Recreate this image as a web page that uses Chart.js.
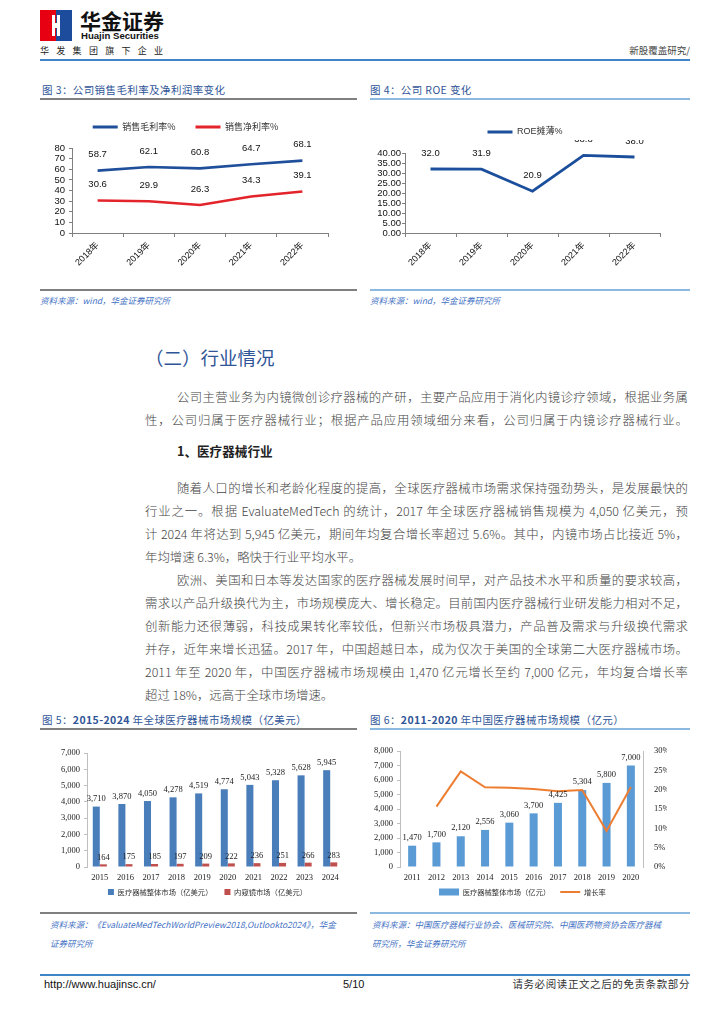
<!DOCTYPE html>
<html><head><meta charset="utf-8">
<script src="https://cdn.jsdelivr.net/npm/chart.js@4.4.1/dist/chart.umd.min.js"></script>
<style>
html,body{margin:0;padding:0;background:#fff;}
#page{position:relative;width:724px;height:1024px;overflow:hidden;font-family:"Noto Sans CJK SC","Liberation Sans",sans-serif;}
.tx{position:absolute;white-space:nowrap;line-height:1;}
.hl{position:absolute;}
canvas{position:absolute;}
.pl{position:absolute;left:145px;width:543px;font-size:12.4px;line-height:16px;color:#444;font-weight:300;text-align:justify;text-align-last:justify;}
.pf{left:177px;width:511px;}
.pe{text-align:left;text-align-last:left;}
.ft{color:#2F5597;font-size:10.5px;letter-spacing:0.4px;}
.src{color:#4472C4;font-size:8.5px;font-style:italic;}
</style>
</head><body>
<div id="page">
<!-- header -->
<svg style="position:absolute;left:40px;top:10px" width="32" height="31" viewBox="0 0 32 31">
  <rect x="0" y="0" width="16" height="31" fill="#E60012"/>
  <rect x="16" y="0" width="16" height="31" fill="#1D4C9C"/>
  <polygon points="12,5 15,5 15,13 17,13 17,5 20,5 20,26 17,26 17,18 15,18 15,26 12,26" fill="#fff"/>
</svg>
<div class="tx" style="left:80px;top:10px;font-size:21px;font-weight:bold;color:#111;">华金证券</div>
<div class="tx" style="left:81px;top:31px;font-size:9.6px;font-weight:bold;color:#111;font-family:'Liberation Sans',sans-serif;">Huajin Securities</div>
<div class="tx" style="left:40px;top:46px;font-size:9px;letter-spacing:7.3px;color:#222;">华发集团旗下企业</div>
<div class="tx" style="right:34px;top:46px;font-size:9.5px;color:#444;">新股覆盖研究/</div>
<div class="hl" style="left:40px;top:59px;width:650px;height:2px;background:#3D85C6;"></div>

<!-- figure 3 / 4 titles -->
<div class="tx ft" style="left:42px;top:85px;">图 3：公司销售毛利率及净利润率变化</div>
<div class="hl" style="left:40px;top:98px;width:317px;height:2px;background:#808080;"></div>
<div class="tx ft" style="left:370px;top:85px;">图 4：公司 ROE 变化</div>
<div class="hl" style="left:370px;top:98px;width:320px;height:2px;background:#8DB8DF;"></div>

<canvas id="c3" width="317" height="183" style="left:40px;top:105px;"></canvas>
<canvas id="c4" width="328" height="183" style="left:362px;top:105px;"></canvas>

<div class="hl" style="left:40px;top:289px;width:317px;height:2px;background:#808080;"></div>
<div class="hl" style="left:370px;top:289px;width:320px;height:2px;background:#8DB8DF;"></div>
<div class="tx src" style="left:40px;top:296px;">资料来源：wind，华金证券研究所</div>
<div class="tx src" style="left:370px;top:296px;">资料来源：wind，华金证券研究所</div>

<!-- body text -->
<div class="tx" style="left:145px;top:348px;font-size:18.5px;color:#2F5597;">（二）行业情况</div>

<div class="pl pf" style="top:389px;">公司主营业务为内镜微创诊疗器械的产研，主要产品应用于消化内镜诊疗领域，根据业务属</div>
<div class="pl" style="top:412px;">性，公司归属于医疗器械行业；根据产品应用领域细分来看，公司归属于内镜诊疗器械行业。</div>
<div class="tx" style="left:177px;top:445px;font-size:12.6px;font-weight:bold;color:#222;">1、医疗器械行业</div>

<div class="pl pf" style="top:480px;">随着人口的增长和老龄化程度的提高，全球医疗器械市场需求保持强劲势头，是发展最快的</div>
<div class="pl" style="top:503px;">行业之一。根据 EvaluateMedTech 的统计，2017 年全球医疗器械销售规模为 4,050 亿美元，预</div>
<div class="pl" style="top:526px;">计 2024 年将达到 5,945 亿美元，期间年均复合增长率超过 5.6%。其中，内镜市场占比接近 5%，</div>
<div class="pl pe" style="top:549px;">年均增速 6.3%，略快于行业平均水平。</div>

<div class="pl pf" style="top:572px;">欧洲、美国和日本等发达国家的医疗器械发展时间早，对产品技术水平和质量的要求较高，</div>
<div class="pl" style="top:595px;">需求以产品升级换代为主，市场规模庞大、增长稳定。目前国内医疗器械行业研发能力相对不足，</div>
<div class="pl" style="top:618px;">创新能力还很薄弱，科技成果转化率较低，但新兴市场极具潜力，产品普及需求与升级换代需求</div>
<div class="pl" style="top:641px;">并存，近年来增长迅猛。2017 年，中国超越日本，成为仅次于美国的全球第二大医疗器械市场。</div>
<div class="pl" style="top:664px;">2011 年至 2020 年，中国医疗器械市场规模由 1,470 亿元增长至约 7,000 亿元，年均复合增长率</div>
<div class="pl pe" style="top:687px;">超过 18%，远高于全球市场增速。</div>

<!-- figure 5 / 6 titles -->
<div class="tx ft" style="left:42px;top:715px;">图 5：<b>2015-2024</b> 年全球医疗器械市场规模（亿美元）</div>
<div class="hl" style="left:40px;top:728px;width:317px;height:2px;background:#808080;"></div>
<div class="tx ft" style="left:370px;top:715px;">图 6：<b>2011-2020</b> 年中国医疗器械市场规模（亿元）</div>
<div class="hl" style="left:370px;top:728px;width:320px;height:2px;background:#8DB8DF;"></div>

<canvas id="c5" width="317" height="170" style="left:40px;top:735px;"></canvas>
<canvas id="c6" width="328" height="170" style="left:362px;top:735px;"></canvas>

<div class="hl" style="left:40px;top:912px;width:317px;height:2px;background:#808080;"></div>
<div class="hl" style="left:370px;top:912px;width:320px;height:2px;background:#8DB8DF;"></div>
<div class="tx src" style="left:50px;top:920px;">资料来源：《EvaluateMedTechWorldPreview2018,Outlookto2024》，华金</div>
<div class="tx src" style="left:50px;top:939px;">证券研究所</div>
<div class="tx src" style="left:372px;top:920px;">资料来源：中国医疗器械行业协会、医械研究院、中国医药物资协会医疗器械</div>
<div class="tx src" style="left:372px;top:939px;">研究所，华金证券研究所</div>

<!-- footer -->
<div class="hl" style="left:40px;top:974px;width:650px;height:1.5px;background:#3D85C6;"></div>
<div class="tx" style="left:44px;top:979px;font-size:11px;color:#111;font-family:'Liberation Sans',sans-serif;">http://www.huajinsc.cn/</div>
<div class="tx" style="left:343px;top:979px;font-size:11px;color:#111;font-family:'Liberation Sans',sans-serif;">5/10</div>
<div class="tx" style="right:34px;top:979px;font-size:10.5px;color:#333;letter-spacing:0.6px;">请务必阅读正文之后的免责条款部分</div>
</div>

<script>
// ---------- data ----------
const years3 = ['2018年', '2019年', '2020年', '2021年', '2022年'];
const grossMargin = [58.7, 62.1, 60.8, 64.7, 68.1];
const netMargin = [30.6, 29.9, 26.3, 34.3, 39.1];
const roeYears = ['2018年', '2019年', '2020年', '2021年', '2022年'];
const roeDiluted = [32.0, 31.9, 20.9, 38.8, 38.0];
const years5 = ['2015', '2016', '2017', '2018', '2019', '2020', '2021', '2022', '2023', '2024'];
const globalMarket = [3710, 3870, 4050, 4278, 4519, 4774, 5043, 5328, 5628, 5945];
const endoscopeMarket = [164, 175, 185, 197, 209, 222, 236, 251, 266, 283];
const years6 = ['2011', '2012', '2013', '2014', '2015', '2016', '2017', '2018', '2019', '2020'];
const chinaMarket = [1470, 1700, 2120, 2556, 3060, 3700, 4425, 5304, 5800, 7000];
const growthRate = [null, 15.6, 24.7, 20.6, 20.5, 20.2, 19.6, 19.9, 9.3, 20.7];

// ---------- helpers ----------
const SANS = '"Liberation Sans", "Noto Sans CJK SC", sans-serif';
const SERIF = '"Liberation Serif", "Noto Sans CJK SC", serif';
const CJK = '"Noto Sans CJK SC", "Liberation Sans", sans-serif';
const fmtThousands = v => Number(v).toLocaleString('en-US');

function tune(o) {
  return {
    id: 'tune',
    beforeLayout(chart) {
      const lg = chart.legend;
      if (lg && !lg._tuned && o.legendH != null) {
        const f = lg.fit;
        lg.fit = function () { f.call(this); this.height = o.legendH; };
        lg._tuned = true;
      }
    },
    afterLayout(chart) {
      const lg = chart.legend;
      if (lg) {
        lg.left += o.dx || 0; lg.right += o.dx || 0;
        lg.top += o.dy || 0;
        lg.bottom = chart.height;
      }
    }
  };
}

function valueLabels(cfgs) {
  return {
    id: 'valueLabels',
    afterDatasetsDraw(chart) {
      const ctx = chart.ctx;
      cfgs.forEach(c => {
        const meta = chart.getDatasetMeta(c.index);
        const vals = chart.data.datasets[c.index].data;
        ctx.save();
        if (c.clipTop != null) {
          ctx.beginPath();
          ctx.rect(0, chart.chartArea.top - c.clipTop, chart.width, chart.height);
          ctx.clip();
        }
        ctx.font = c.font;
        ctx.fillStyle = c.color;
        ctx.textAlign = 'center';
        ctx.textBaseline = 'middle';
        meta.data.forEach((el, j) => {
          const v = vals[j];
          if (v == null) return;
          ctx.fillText(c.fmt(v), el.x + (c.dx || 0), el.y - c.dy);
        });
        ctx.restore();
      });
    }
  };
}

function legendLabels(chart) {
  return chart.data.datasets.map((ds, i) => ({
    text: ds.label,
    fillStyle: ds.legendFill,
    strokeStyle: ds.legendFill,
    lineWidth: ds.legendLine || 0,
    pointStyle: ds.legendStyle,
    hidden: false,
    datasetIndex: i,
    fontColor: '#333'
  }));
}

Chart.defaults.animation = false;
Chart.defaults.color = '#000';

// ---------- chart 3 ----------
const AX3 = '#7f7f7f';
new Chart(document.getElementById('c3'), {
  type: 'line',
  data: {
    labels: years3,
    datasets: [
      { label: '销售毛利率%', data: grossMargin, borderColor: '#1F4E9A', backgroundColor: '#1F4E9A',
        borderWidth: 2.6, pointRadius: 0, tension: 0, legendFill: '#1F4E9A', legendLine: 3, legendStyle: 'line' },
      { label: '销售净利率%', data: netMargin, borderColor: '#E3242B', backgroundColor: '#E3242B',
        borderWidth: 2.6, pointRadius: 0, tension: 0, legendFill: '#E3242B', legendLine: 3, legendStyle: 'line' }
    ]
  },
  options: {
    responsive: false,
    layout: { padding: { left: 0, right: 29, top: 0, bottom: 0 } },
    plugins: {
      tooltip: { enabled: false },
      legend: { position: 'top', labels: { usePointStyle: true, pointStyleWidth: 25, boxHeight: 9, padding: 20,
        font: { size: 9, family: CJK }, color: '#333', generateLabels: legendLabels } }
    },
    scales: {
      x: { offset: true,
        grid: { display: true, drawOnChartArea: false, offset: true, tickLength: 4, color: AX3 },
        border: { display: true, color: AX3 },
        ticks: { minRotation: 45, maxRotation: 45, padding: 3, font: { size: 9, family: SANS }, color: '#111' },
        afterFit(s) { s.height = 55; } },
      y: { min: 0, max: 80,
        grid: { display: true, drawOnChartArea: false, tickLength: 3, color: AX3 },
        border: { display: true, color: AX3 },
        ticks: { stepSize: 10, autoSkip: false, padding: 4, font: { size: 9.5, family: SANS }, color: '#111' },
        afterFit(s) { s.width = 32; } }
    }
  },
  plugins: [tune({ legendH: 43, dx: 1.5, dy: -2.5 }),
    valueLabels([
      { index: 0, dy: 16, font: '9.5px ' + SANS, color: '#111', fmt: v => v.toFixed(1) },
      { index: 1, dy: 16, font: '9.5px ' + SANS, color: '#111', fmt: v => v.toFixed(1) }
    ])]
});

// ---------- chart 4 ----------
new Chart(document.getElementById('c4'), {
  type: 'line',
  data: {
    labels: roeYears,
    datasets: [
      { label: 'ROE摊薄%', data: roeDiluted, borderColor: '#1B4F9C', backgroundColor: '#1B4F9C',
        borderWidth: 2.8, pointRadius: 0, tension: 0, legendFill: '#1B4F9C', legendLine: 3, legendStyle: 'line' }
    ]
  },
  options: {
    responsive: false,
    layout: { padding: { left: 0, right: 30, top: 0, bottom: 0 } },
    plugins: {
      tooltip: { enabled: false },
      legend: { position: 'top', labels: { usePointStyle: true, pointStyleWidth: 25, boxHeight: 9, padding: 20,
        font: { size: 9, family: SANS }, color: '#333', generateLabels: legendLabels } }
    },
    scales: {
      x: { offset: true,
        grid: { display: true, drawOnChartArea: false, offset: true, tickLength: 4, color: AX3 },
        border: { display: true, color: AX3 },
        ticks: { minRotation: 45, maxRotation: 45, padding: 3, font: { size: 9, family: SANS }, color: '#111' },
        afterFit(s) { s.height = 55; } },
      y: { min: 0, max: 40,
        grid: { display: true, drawOnChartArea: false, tickLength: 3, color: AX3 },
        border: { display: true, color: AX3 },
        ticks: { stepSize: 5, autoSkip: false, padding: 1, font: { size: 9.5, family: SANS }, color: '#111', callback: v => v.toFixed(2) },
        afterFit(s) { s.width = 43; } }
    }
  },
  plugins: [tune({ legendH: 48, dx: 14, dy: 2.5 }),
    valueLabels([
      { index: 0, dy: 16, font: '9.5px ' + SANS, color: '#111', fmt: v => v.toFixed(1), clipTop: 13 }
    ])]
});

// ---------- chart 5 ----------
const AX5 = '#bfbfbf';
new Chart(document.getElementById('c5'), {
  type: 'bar',
  data: {
    labels: years5,
    datasets: [
      { label: '医疗器械整体市场（亿美元）', data: globalMarket, backgroundColor: '#4A7EBB',
        barPercentage: 1, categoryPercentage: 0.55, legendFill: '#4A7EBB', legendStyle: 'rect' },
      { label: '内窥镜市场（亿美元）', data: endoscopeMarket, backgroundColor: '#C0504D',
        barPercentage: 1, categoryPercentage: 0.55, legendFill: '#C0504D', legendStyle: 'rect' }
    ]
  },
  options: {
    responsive: false,
    layout: { padding: { left: 0, right: 14, top: 18, bottom: 0 } },
    plugins: {
      tooltip: { enabled: false },
      legend: { position: 'bottom', labels: { usePointStyle: true, pointStyleWidth: 6, boxHeight: 6, padding: 12,
        font: { size: 7.3, family: CJK }, color: '#333', generateLabels: legendLabels } }
    },
    scales: {
      x: { grid: { display: false }, border: { display: false },
        ticks: { padding: -2, font: { size: 8.5, family: SERIF }, color: '#222' },
        afterFit(s) { s.height = 18; } },
      y: { min: 0, max: 7000,
        grid: { display: true, drawOnChartArea: false, tickLength: 3, color: AX5 },
        border: { display: true, color: AX5 },
        ticks: { stepSize: 1000, autoSkip: false, padding: 4, font: { size: 8.5, family: SERIF }, color: '#222', callback: v => fmtThousands(v) },
        afterFit(s) { s.width = 47; } }
    }
  },
  plugins: [tune({ legendH: 20, dx: 16, dy: -8.65 }),
    valueLabels([
      { index: 0, dy: 7.6, font: '8.5px ' + SERIF, color: '#222', fmt: fmtThousands },
      { index: 1, dy: 7, font: '8.5px ' + SERIF, color: '#222', fmt: fmtThousands }
    ])]
});

// ---------- chart 6 ----------
new Chart(document.getElementById('c6'), {
  type: 'bar',
  data: {
    labels: years6,
    datasets: [
      { type: 'bar', label: '医疗器械整体市场（亿元）', data: chinaMarket, backgroundColor: '#5B9BD5',
        barPercentage: 1, categoryPercentage: 0.33, yAxisID: 'y', order: 2, legendFill: '#5B9BD5', legendStyle: 'rect' },
      { type: 'line', label: '增长率', data: growthRate, borderColor: '#ED7D31', backgroundColor: '#ED7D31',
        borderWidth: 2, pointRadius: 0, tension: 0, yAxisID: 'y2', order: 1, legendFill: '#ED7D31', legendLine: 2, legendStyle: 'line' }
    ]
  },
  options: {
    responsive: false,
    layout: { padding: { left: 0, right: 23, top: 16, bottom: 0 } },
    plugins: {
      tooltip: { enabled: false },
      legend: { position: 'bottom', labels: { usePointStyle: true, pointStyleWidth: 20, boxHeight: 7, padding: 10,
        font: { size: 7.3, family: CJK }, color: '#333', generateLabels: legendLabels } }
    },
    scales: {
      x: { grid: { display: false }, border: { display: false },
        ticks: { padding: -2, font: { size: 8.5, family: SERIF }, color: '#222' },
        afterFit(s) { s.height = 18; } },
      y: { position: 'left', min: 0, max: 8000,
        grid: { display: true, drawOnChartArea: false, tickLength: 3, color: AX5 },
        border: { display: true, color: AX5 },
        ticks: { stepSize: 1000, autoSkip: false, padding: 4, font: { size: 8.5, family: SERIF }, color: '#222', callback: v => fmtThousands(v) },
        afterFit(s) { s.width = 38; } },
      y2: { position: 'right', min: 0, max: 30,
        grid: { display: false, drawOnChartArea: false },
        border: { display: true, color: AX5 },
        ticks: { stepSize: 5, autoSkip: false, padding: 3, font: { size: 8.5, family: SERIF }, color: '#222', callback: v => v + '%' },
        afterFit(s) { s.width = 24; } }
    }
  },
  plugins: [tune({ legendH: 20, dx: 7.9, dy: -6.65 }),
    valueLabels([
      { index: 0, dy: 8, font: '8.5px ' + SERIF, color: '#222', fmt: fmtThousands }
    ])]
});
</script>
</body></html>
